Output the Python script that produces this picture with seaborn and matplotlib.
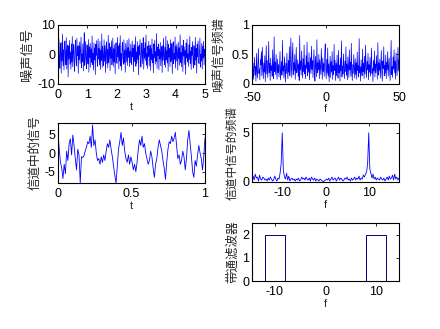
import numpy as np
import pandas as pd
import matplotlib
matplotlib.use("Agg")
import matplotlib.pyplot as plt
import seaborn as sns

# ---------------- data ----------------
noise_sig = [
    2.8, -3.1, 5.2, -1.4, -4.7, 3.9, 0.6, -6.3, 4.1, -2.2,
    6.9, -3.8, 1.7, -5.2, 2.4, 4.6, -0.8, -3.5, 5.7, -4.9,
    1.3, 3.2, -7.6, 2.9, -1.5, 4.8, -3.3, 0.9, -5.0, 3.6,
    -2.6, 6.1, -4.2, 1.1, 3.4, -2.9, -5.7, 2.3, 4.9, -1.2,
    -3.9, 5.5, -0.4, 2.7, -6.4, 3.1, -1.8, 4.2, -3.0, 1.6,
    5.9, -4.5, 0.2, -2.4, 3.7, -5.6, 2.0, 7.4, -3.7, -0.7,
    4.4, -2.1, -4.8, 3.3, 1.0, -3.2, 5.1, -6.0, 2.6, -1.0,
    3.8, -4.3, 1.9, -2.7, 6.3, -3.4, 0.5, -5.3, 4.0, -1.9,
    2.2, -6.8, 3.5, -0.3, 4.7, -2.5, -4.0, 5.3, -1.6, 2.1,
    -3.6, 4.5, -5.1, 1.4, -2.0, 7.0, -4.4, 2.8, -1.1, -3.8,
    5.0, -2.3, 3.0, -6.1, 0.8, 4.3, -3.1, 1.8, -4.6, 6.5,
    -2.8, 0.1, 3.9, -5.5, 2.5, -1.3, 4.6, -3.5, -0.6, 5.6,
    -4.1, 2.0, -2.6, 3.4, -6.6, 1.2, 4.0, -1.7, -3.0, 5.8,
    -0.9, 2.9, -4.9, 3.7, -2.2, 6.4, -3.9, 0.4, -5.4, 2.7,
    4.2, -1.4, -3.3, 5.0, -2.9, 1.5, -6.0, 3.8, 0.7, -2.5,
    4.8, -3.7, 2.3, -1.0, 5.4, -4.2, 1.1, -2.8, 3.5, -0.5,
    -3.4, 4.6, -0.8, 2.1, -5.9, 3.3, 1.6, -2.4, 6.0, -4.0,
    0.9, -3.0, 4.4, -1.7, 2.6, -6.9, 3.1, -0.2, 5.1, -2.6,
    -4.3, 1.8, 3.9, -3.2, 0.6, 5.7, -5.0, 2.2, -1.3, 4.0,
    -2.1, 6.6, -3.6, 0.3, -4.8, 2.9, -0.7, 4.5, -3.9, 1.4,
    3.2, -5.4, 2.0, -1.9, 5.3, -2.8, 0.0, -6.2, 3.6, -1.1,
    4.9, -3.3, 1.0, -2.3, 7.1, -4.7, 2.4, -0.4, 3.5, -5.2,
    1.7, -1.5, 4.1, -3.8, 0.8, 2.7, -6.1, 3.0, -2.0, 5.5,
    -0.6, -3.5, 2.5, -4.4, 6.2, -1.8, 1.3, -2.9, 4.7, -5.7,
    3.4, -0.9, 2.0, -4.1, 5.0, -2.4, -1.0, 3.7, -6.5, 1.9,
    4.3, -3.1, 0.4, -1.6, 5.9, -4.6, 2.8, -2.2, 3.6, -0.1,
    -5.3, 4.2, -1.4, 2.3, -3.7, 6.7, -2.7, 0.7, -4.2, 3.1,
    1.2, -5.8, 4.8, -0.5, 2.6, -3.4, 1.5, -6.7, 3.9, -1.2,
    5.2, -2.5, 0.2, -4.0, 3.3, -1.7, 6.1, -3.0, 1.1, -5.1,
    2.4, -0.3, 4.4, -2.6, -4.5, 3.0, 0.5, -3.6, 5.8, -1.9,
    2.1, -6.3, 3.5, -0.8, 4.6, -2.0, -3.1, 1.6, 5.6, -4.3,
    0.1, -2.2, 3.8, -5.0, 2.9, -1.3, 4.5, -3.5, 1.8, -0.6,
]
noise_spec = [
    0.70, 0.12, 0.35, 0.08, 0.28, 0.45, 0.15, 0.30, 0.05, 0.52,
    0.22, 0.10, 0.38, 0.60, 0.18, 0.26, 0.07, 0.41, 0.33, 0.55,
    0.14, 0.62, 0.25, 0.09, 0.36, 0.20, 0.48, 0.04, 0.30, 0.65,
    0.17, 0.40, 0.11, 0.28, 0.72, 0.19, 0.35, 0.06, 0.44, 0.23,
    0.31, 0.13, 0.58, 0.27, 0.09, 0.80, 0.21, 0.37, 0.16, 0.50,
    0.26, 0.08, 0.42, 0.19, 0.33, 0.12, 0.29, 0.55, 0.07, 0.24,
    0.38, 0.15, 0.74, 0.22, 0.31, 0.10, 0.46, 0.27, 0.03, 0.35,
    0.18, 0.52, 0.25, 0.09, 0.40, 0.20, 0.63, 0.14, 0.32, 0.78,
    0.28, 0.11, 0.45, 0.70, 0.16, 0.36, 0.23, 0.50, 0.08, 0.30,
    0.62, 0.19, 0.27, 0.41, 0.13, 0.34, 0.06, 0.82, 0.24, 0.39,
    0.15, 0.56, 0.29, 0.10, 0.43, 0.21, 0.66, 0.17, 0.32, 0.09,
    0.48, 0.26, 0.71, 0.14, 0.37, 0.20, 0.53, 0.07, 0.30, 0.45,
    0.18, 0.64, 0.25, 0.40, 0.11, 0.33, 0.58, 0.22, 0.05, 0.47,
    0.28, 0.12, 0.75, 0.19, 0.36, 0.24, 0.50, 0.09, 0.41, 0.27,
    0.16, 0.60, 0.31, 0.08, 0.44, 0.21, 0.35, 0.13, 0.52, 0.68,
    0.25, 0.09, 0.42, 0.18, 0.61, 0.13, 0.34, 0.04, 0.29, 0.47,
    0.11, 0.38, 0.20, 0.55, 0.08, 0.31, 0.16, 0.67, 0.23, 0.40,
    0.06, 0.35, 0.14, 0.49, 0.27, 0.10, 0.57, 0.19, 0.32, 0.05,
    0.44, 0.22, 0.73, 0.12, 0.30, 0.17, 0.51, 0.26, 0.09, 0.39,
    0.21, 0.63, 0.15, 0.34, 0.07, 0.46, 0.28, 0.11, 0.58, 0.24,
    0.37, 0.13, 0.69, 0.20, 0.06, 0.33, 0.18, 0.50, 0.27, 0.10,
    0.43, 0.16, 0.36, 0.08, 0.54, 0.23, 0.31, 0.12, 0.77, 0.19,
    0.29, 0.05, 0.41, 0.25, 0.14, 0.59, 0.21, 0.35, 0.09, 0.47,
    0.17, 0.66, 0.28, 0.11, 0.38, 0.24, 0.52, 0.07, 0.33, 0.20,
    0.45, 0.13, 0.30, 0.61, 0.18, 0.26, 0.04, 0.40, 0.22, 0.56,
    0.12, 0.34, 0.19, 0.48, 0.27, 0.08, 0.70, 0.15, 0.36, 0.23,
    0.42, 0.10, 0.31, 0.57, 0.20, 0.05, 0.39, 0.26, 0.63, 0.14,
    0.32, 0.18, 0.49, 0.09, 0.37, 0.24, 0.55, 0.13, 0.28, 0.44,
    0.21, 0.06, 0.35, 0.74, 0.16, 0.30, 0.11, 0.46, 0.25, 0.58,
    0.19, 0.39, 0.08, 0.53, 0.27, 0.14, 0.33, 0.62, 0.22, 0.41,
]
chan_sig = [
    5.5, 1.0, -2.5, -4.0, -6.8, -3.0, -5.5, 0.5, -2.0, 2.5,
    3.8, -0.5, 4.8, 2.0, -1.5, -4.5, 1.0, -0.5, -8.0, -1.0,
    -1.2, -0.8, 0.5, 1.5, 3.0, 2.5, 4.5, 1.5, 7.5, 2.0,
    3.5, 0.0, -2.0, -1.5, -3.0, -1.0, -2.5, -0.5, -2.0, 0.5,
    2.5, 1.5, 3.5, 1.0, -1.0, -3.5, -6.0, -8.0, -3.5, 1.0,
    3.0, 5.5, 2.0, 4.0, 0.5, -1.5, -2.5, -0.5, -3.0, -1.0,
    -2.5, -4.5, -3.0, -5.0, -2.5, 1.0, 3.5, 2.0, 4.5, 1.5,
    2.5, 0.0, -1.5, -3.0, -2.0, 0.5, -1.0, -4.0, -6.5, -3.0,
    -1.5, 1.5, 3.5, 2.0, 0.5, -2.0, -4.0, -7.0, -2.5, 1.0,
    3.0, 2.5, 4.5, 3.0, 4.0, 5.5, 2.0, -1.5, -0.5, -3.0,
    -2.0, 0.5, -1.0, -4.5, -1.5, 3.5, 6.0, 2.5, -1.0, -5.0,
    -6.5, -2.0, -3.5, -0.5, 2.0, 0.0, -1.5, -4.5, -1.0, 4.0,
]
chan_spec = [
    0.3, 0.6, 0.2, 0.8, 0.4, 0.5, 0.1, 0.7, 0.3, 0.2,
    0.5, 0.4, 0.2, 0.3, 0.1, 0.4, 0.2, 0.5, 0.3, 0.1,
    0.2, 0.6, 0.3, 0.1, 0.4, 0.3, 0.9, 1.9, 5.0, 1.2,
    0.5, 0.3, 0.9, 0.2, 0.6, 0.1, 0.3, 0.4, 0.2, 0.3,
    0.1, 0.3, 0.2, 0.4, 0.1, 0.2, 0.5, 0.3, 0.4, 0.2,
    0.5, 0.3, 0.2, 0.4, 0.1, 0.5, 0.3, 0.2, 0.4, 0.1,
    0.3, 0.2, 0.1, 0.3, 0.2, 0.1, 0.05, 0.1, 0.2, 0.3,
    0.2, 0.4, 0.1, 0.3, 0.5, 0.2, 0.3, 0.4, 0.1, 0.3,
    0.5, 0.2, 0.4, 0.3, 0.1, 0.2, 0.4, 0.3, 0.5, 0.2,
    0.3, 0.1, 0.4, 0.2, 0.3, 0.5, 0.2, 0.4, 0.3, 0.6,
    0.2, 0.4, 0.3, 0.7, 0.5, 0.8, 1.0, 1.9, 5.0, 1.3,
    0.9, 0.4, 0.8, 0.3, 0.5, 0.2, 0.4, 0.3, 0.2, 0.5,
    0.3, 0.2, 0.4, 0.1, 0.3, 0.5, 0.2, 0.6, 0.3, 0.4,
    0.7, 0.2, 0.8, 0.3, 0.5, 0.2, 0.4,
]
filt_f = [-14.5, -12, -12, -8, -8, 8, 8, 12, 12, 14.5]
filt_h = [0, 0, 2, 2, 0, 0, 2, 2, 0, 0]

t_noise = np.linspace(0, 5, len(noise_sig))
f_noise = np.linspace(-50, 50, len(noise_spec))
t_chan = np.linspace(0, 1, len(chan_sig))
f_chan = np.linspace(-17, 17, len(chan_spec))

# ---------------- style ----------------
sns.set_theme(style="white")
plt.rcParams["font.family"] = ["Liberation Sans", "Noto Sans CJK SC"]
plt.rcParams["font.size"] = 9
plt.rcParams["axes.unicode_minus"] = False

fig = plt.figure(figsize=(4.4, 3.29), dpi=100)
W, H = 440, 329


def make_ax(x0, y0, x1, y1):
    return fig.add_axes([x0 / W, 1 - y1 / H, (x1 - x0) / W, (y1 - y0) / H])


def style(ax, ylab_x, xpad=3.5):
    for s in ax.spines.values():
        s.set_visible(True)
        s.set_color("black")
        s.set_linewidth(0.8)
    ax.tick_params(direction="in", length=2.5, width=0.6, top=True, right=True,
                   labelsize=9, colors="black")
    ax.tick_params(axis="x", pad=xpad)
    ax.tick_params(axis="y", pad=2)
    ax.set_facecolor("white")
    ax.yaxis.set_label_coords(ylab_x, 0.5)


blue = "#0000ff"
lw = 0.5

# top-left
ax1 = make_ax(58, 25, 205, 84)
sns.lineplot(x=t_noise, y=noise_sig, ax=ax1, color=blue, linewidth=lw, estimator=None, sort=False)
ax1.set_xlim(0, 5)
ax1.set_ylim(-10, 10)
ax1.set_xticks([0, 1, 2, 3, 4, 5])
ax1.set_yticks([-10, 0, 10])
ax1.set_xlabel("t", fontsize=8, labelpad=1)
ax1.set_ylabel("噪声信号", fontsize=9.5)
style(ax1, -0.167)

# top-right
ax2 = make_ax(252, 25, 399, 84)
sns.lineplot(x=f_noise, y=noise_spec, ax=ax2, color=blue, linewidth=lw, estimator=None, sort=False)
ax2.set_xlim(-50, 50)
ax2.set_ylim(0, 1)
ax2.set_xticks([-50, 0, 50])
ax2.set_yticks([0, 0.5, 1])
ax2.set_yticklabels(["0", "0.5", "1"])
ax2.set_xlabel("f", fontsize=8, labelpad=0)
ax2.set_ylabel("噪声信号频谱", fontsize=9)
style(ax2, -0.185, xpad=5.5)

# middle-left
ax3 = make_ax(58, 123, 205, 183)
sns.lineplot(x=t_chan, y=chan_sig, ax=ax3, color=blue, linewidth=0.6, estimator=None, sort=False)
ax3.set_xlim(0, 1)
ax3.set_ylim(-8, 8)
ax3.set_xticks([0, 0.5, 1])
ax3.set_xticklabels(["0", "0.5", "1"])
ax3.set_yticks([-5, 0, 5])
ax3.set_xlabel("t", fontsize=8, labelpad=1)
ax3.set_ylabel("信道中的信号", fontsize=9)
style(ax3, -0.112)

# middle-right
ax4 = make_ax(252, 123, 399, 182)
sns.lineplot(x=f_chan, y=chan_spec, ax=ax4, color=blue, linewidth=0.6, estimator=None, sort=False)
ax4.set_xlim(-17, 17)
ax4.set_ylim(0, 6)
ax4.set_xticks([-10, 0, 10])
ax4.set_yticks([0, 5])
ax4.set_xlabel("f", fontsize=8, labelpad=1)
ax4.set_ylabel("信道中信号的频谱", fontsize=8.5)
style(ax4, -0.092)

# bottom-right
ax5 = make_ax(252, 223, 399, 281)
sns.lineplot(x=filt_f, y=filt_h, ax=ax5, color="#000080", linewidth=0.7, estimator=None, sort=False)
ax5.set_xlim(-14.5, 14.5)
ax5.set_ylim(0, 2.5)
ax5.set_xticks([-10, 0, 10])
ax5.set_yticks([0, 1, 2])
ax5.set_xlabel("f", fontsize=8, labelpad=1)
ax5.set_ylabel("带通滤波器", fontsize=9)
style(ax5, -0.085)

fig.savefig("out.png", dpi=100, facecolor="white")
